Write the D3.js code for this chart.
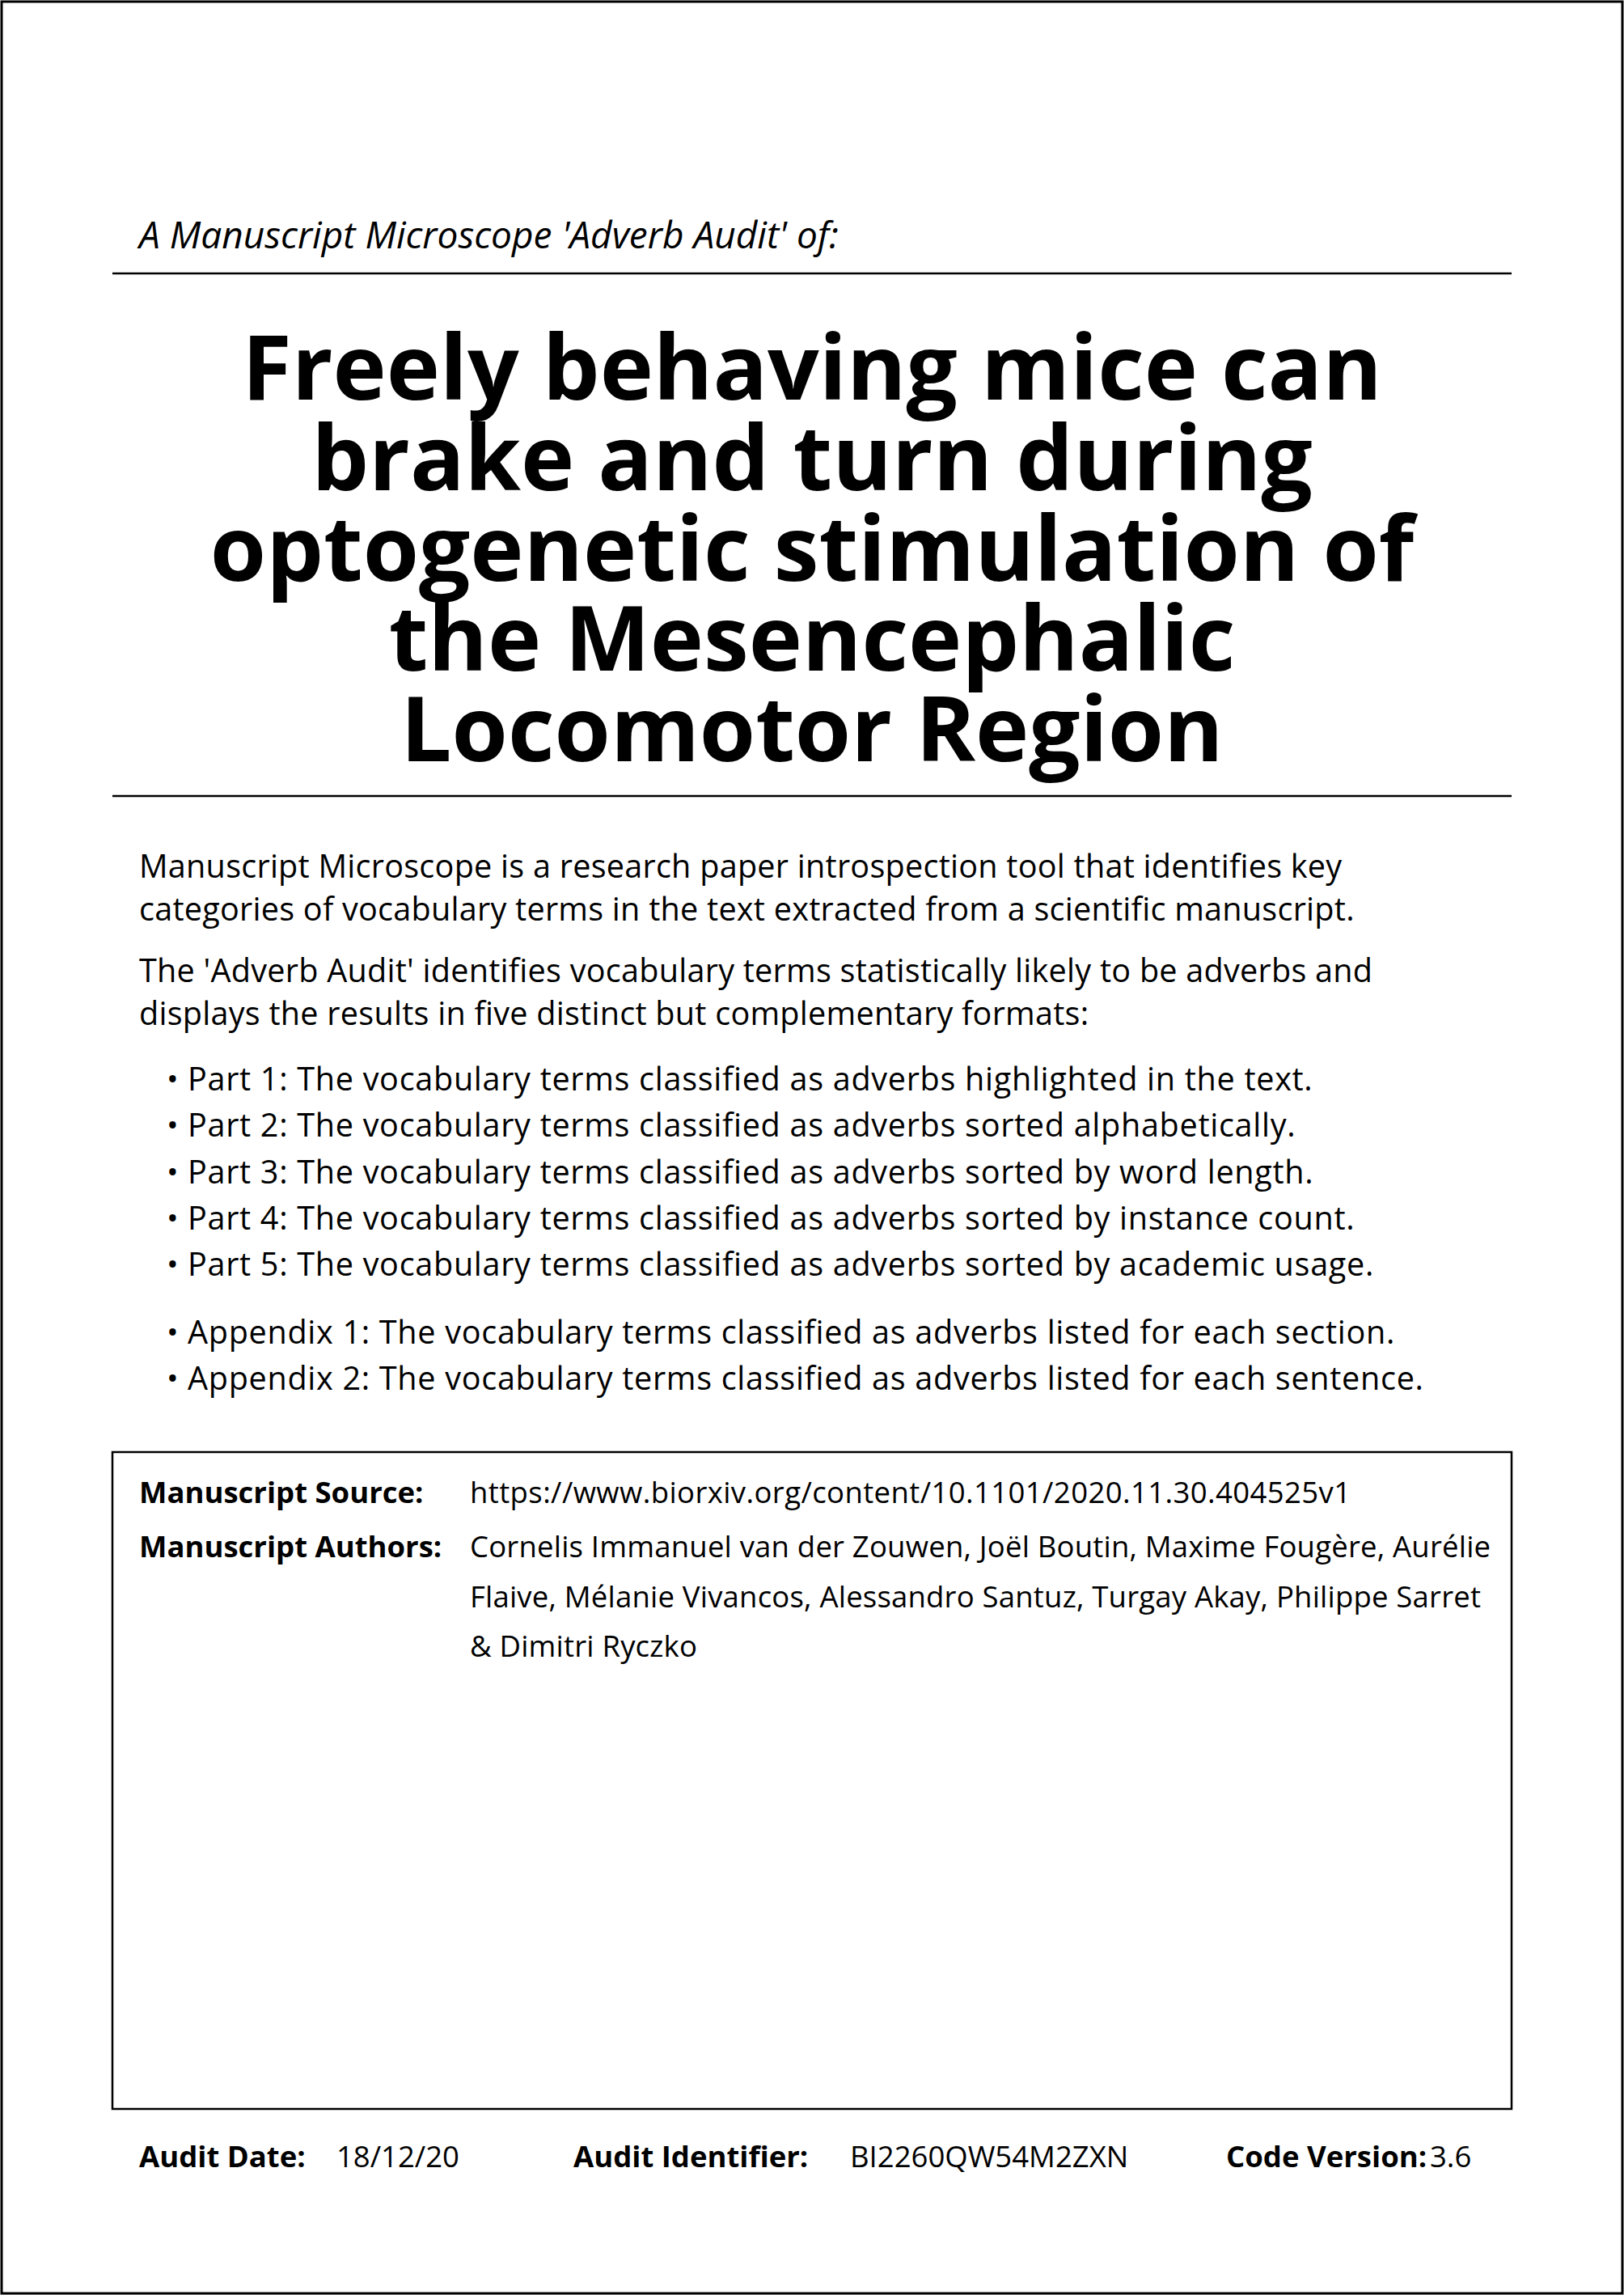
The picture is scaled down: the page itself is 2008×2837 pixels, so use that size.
<!DOCTYPE html>
<html><head><meta charset="utf-8">
<script src="https://cdn.jsdelivr.net/npm/d3@7"></script>
<style>body{margin:0;background:#fff}text{font-family:"Open Sans",sans-serif;fill:#000}</style>
</head><body>
<svg id="page" width="2008" height="2837"></svg>
<script>
var subtitle = "A Manuscript Microscope 'Adverb Audit' of:";
var titleLines = ["Freely behaving mice can","brake and turn during","optogenetic stimulation of","the Mesencephalic","Locomotor Region"];
var introLines = ["Manuscript Microscope is a research paper introspection tool that identifies key",
  "categories of vocabulary terms in the text extracted from a scientific manuscript."];
var auditLines = ["The 'Adverb Audit' identifies vocabulary terms statistically likely to be adverbs and",
  "displays the results in five distinct but complementary formats:"];
var partLines = ["Part 1: The vocabulary terms classified as adverbs highlighted in the text.",
  "Part 2: The vocabulary terms classified as adverbs sorted alphabetically.",
  "Part 3: The vocabulary terms classified as adverbs sorted by word length.",
  "Part 4: The vocabulary terms classified as adverbs sorted by instance count.",
  "Part 5: The vocabulary terms classified as adverbs sorted by academic usage."];
var appendixLines = ["Appendix 1: The vocabulary terms classified as adverbs listed for each section.",
  "Appendix 2: The vocabulary terms classified as adverbs listed for each sentence."];
var sourceLabel = "Manuscript Source:", sourceValue = "https://www.biorxiv.org/content/10.1101/2020.11.30.404525v1";
var authorsLabel = "Manuscript Authors:";
var authorLines = ["Cornelis Immanuel van der Zouwen, Joël Boutin, Maxime Fougère, Aurélie",
  "Flaive, Mélanie Vivancos, Alessandro Santuz, Turgay Akay, Philippe Sarret",
  "& Dimitri Ryczko"];
var footer = [["Audit Date:","18/12/20"],["Audit Identifier:","BI2260QW54M2ZXN"],["Code Version:","3.6"]];

var svg = d3.select("#page");
svg.append("rect").attr("x",2).attr("y",2).attr("width",2004).attr("height",2833)
  .attr("fill","none").attr("stroke","#000").attr("stroke-width",3);

svg.append("text").attr("x",172).attr("y",307).attr("font-size",46).attr("font-style","italic").text(subtitle);
svg.append("line").attr("x1",139).attr("x2",1869).attr("y1",338).attr("y2",338).attr("stroke","#000").attr("stroke-width",2.5);

svg.selectAll(".title").data(titleLines).enter().append("text")
  .attr("x",1004).attr("y",function(d,i){return 494+i*111.8;})
  .attr("text-anchor","middle").attr("font-size",112).attr("font-weight","bold").text(function(d){return d;});
svg.append("line").attr("x1",139).attr("x2",1869).attr("y1",984).attr("y2",984).attr("stroke","#000").attr("stroke-width",2.5);

function para(lines, y0, step, x){
  svg.append("g").selectAll("text").data(lines).enter().append("text")
    .attr("x",x).attr("y",function(d,i){return y0+i*step;})
    .attr("font-size",39.6).attr("letter-spacing",0.25).text(function(d){return d;});
}
para(introLines,1085,53,172);
para(auditLines,1214,53,172);
function bullets(lines,y0){
  var g = svg.append("g").selectAll("g").data(lines).enter().append("g")
    .attr("transform",function(d,i){return "translate(0,"+(y0+i*57.3)+")";});
  g.append("text").attr("x",206).attr("font-size",39).text("\u2022");
  g.append("text").attr("x",232).attr("font-size",39.6).attr("letter-spacing",0.7).text(function(d){return d;});
}
bullets(partLines,1348);
bullets(appendixLines,1661);

svg.append("rect").attr("x",139).attr("y",1795).attr("width",1730).attr("height",812)
  .attr("fill","none").attr("stroke","#000").attr("stroke-width",2.5);
svg.append("text").attr("x",172).attr("y",1858).attr("font-size",36.5).attr("font-weight","bold").text(sourceLabel);
svg.append("text").attr("x",581).attr("y",1858).attr("font-size",36.5).attr("letter-spacing",0.4).text(sourceValue);
svg.append("text").attr("x",172).attr("y",1925).attr("font-size",36.5).attr("font-weight","bold").text(authorsLabel);
svg.append("g").selectAll("text").data(authorLines).enter().append("text")
  .attr("x",581).attr("y",function(d,i){return 1925+i*61.5;}).attr("font-size",36.5).attr("letter-spacing",0.2).text(function(d){return d;});

var fx = [[172,416],[709,1051],[1516,1768]];
footer.forEach(function(f,i){
  svg.append("text").attr("x",fx[i][0]).attr("y",2679).attr("font-size",36.5).attr("font-weight","bold").text(f[0]);
  svg.append("text").attr("x",fx[i][1]).attr("y",2679).attr("font-size",36.5).text(f[1]);
});
</script>
</body></html>
